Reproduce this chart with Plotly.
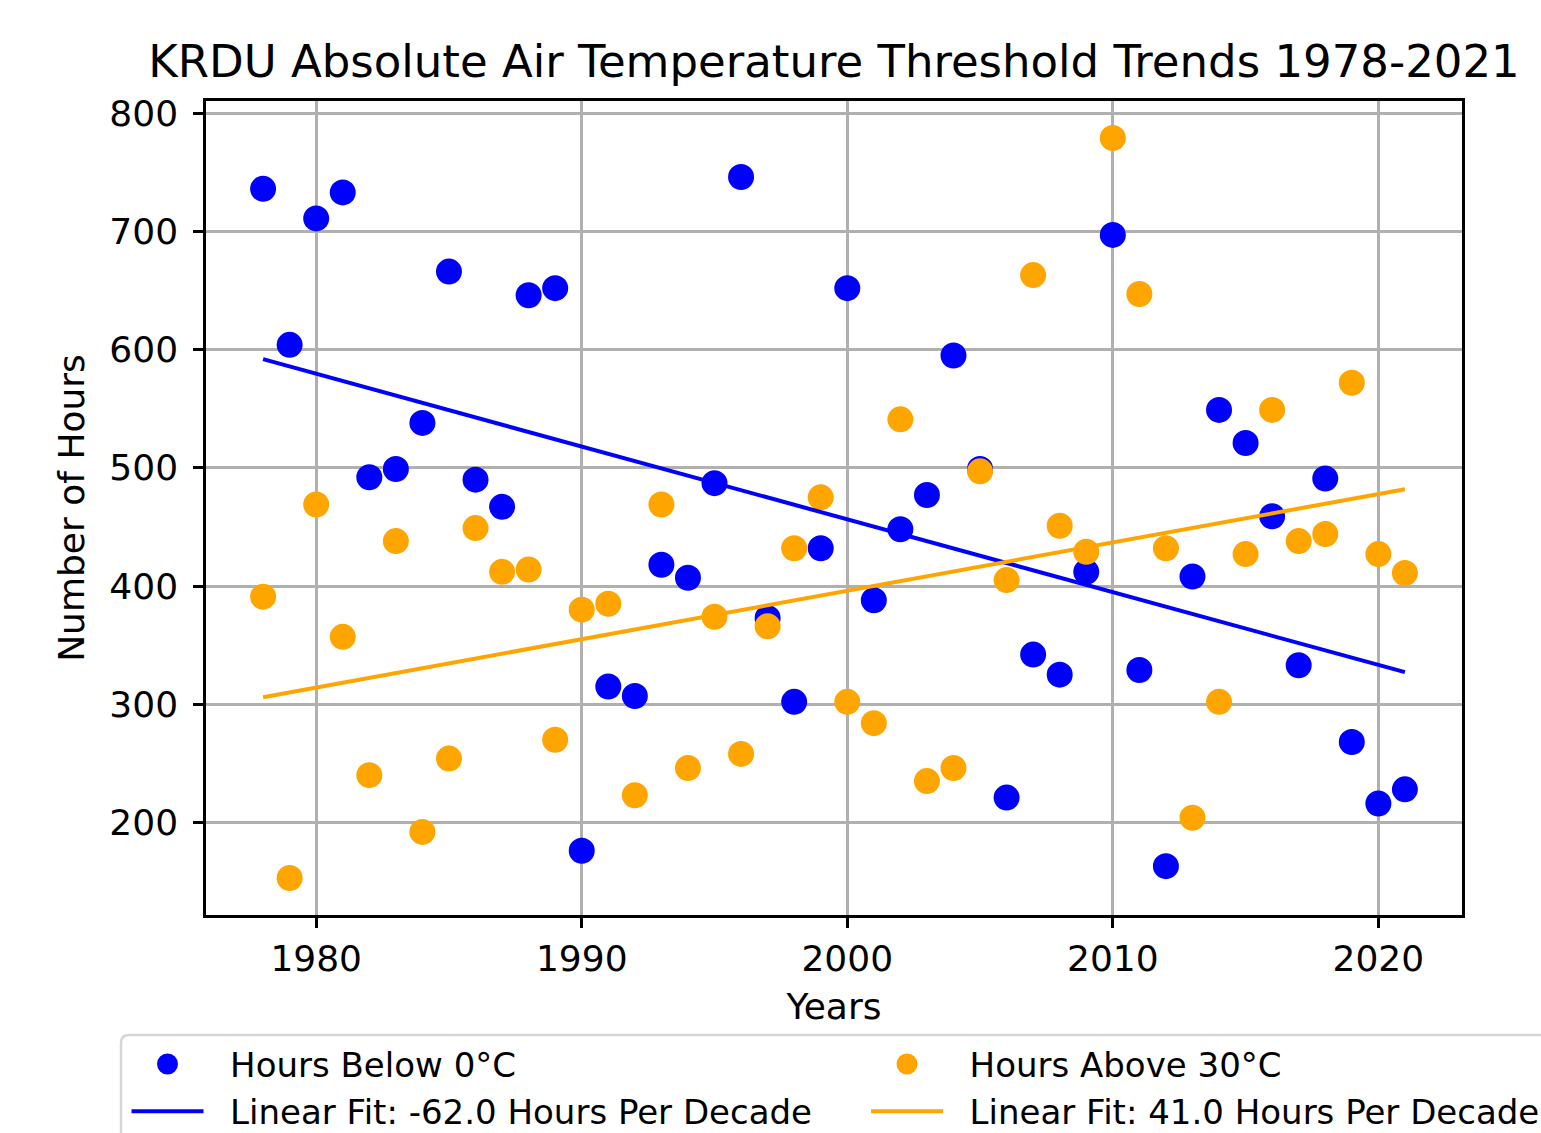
import numpy as np
import plotly.graph_objects as go

years = list(range(1978, 2022))
hours_below_0c = [736, 604, 711, 733, 492, 499, 538, 666, 490, 467,
                  646, 652, 176, 315, 307, 418, 407, 487, 746, 373,
                  302, 432, 652, 388, 448, 477, 595, 499, 221, 342,
                  325, 412, 697, 329, 163, 408, 549, 521, 459, 333,
                  491, 268, 216, 228]
hours_above_30c = [391, 153, 469, 357, 240, 438, 192, 254, 449, 412,
                   414, 270, 380, 385, 223, 469, 246, 374, 258, 366,
                   432, 475, 302, 284, 541, 235, 246, 497, 405, 663,
                   451, 429, 779, 647, 432, 204, 302, 427, 549, 438,
                   444, 572, 427, 411]

title_text = "KRDU Absolute Air Temperature Threshold Trends 1978-2021"
xlabel = "Years"
ylabel = "Number of Hours"
label_below = "Hours Below 0°C"
label_above = "Hours Above 30°C"
label_fit_below = "Linear Fit: -62.0 Hours Per Decade"
label_fit_above = "Linear Fit: 41.0 Hours Per Decade"

BLUE = "#0000ff"
ORANGE = "#ffa500"
FONT = "DejaVu Sans"

yrs = np.array(years, dtype=float)
fit_b = np.polyfit(yrs, hours_below_0c, 1)
fit_a = np.polyfit(yrs, hours_above_30c, 1)
fit_x = [years[0], years[-1]]

# axis ranges as matplotlib autoscale (5% margins)
xmin, xmax = min(years), max(years)
allv = hours_below_0c + hours_above_30c
ymin, ymax = min(allv), max(allv)
xr = [xmin - 0.05 * (xmax - xmin), xmax + 0.05 * (xmax - xmin)]
yr = [ymin - 0.05 * (ymax - ymin), ymax + 0.05 * (ymax - ymin)]

W, H = 1541, 1133
L, R, T, B = 206, 1462, 101, 915
pw, ph = R - L, B - T

def px_x(p):
    return (p - L) / pw

def px_y(p):
    return (B - p) / ph

NB = "\u00a0\u00a0"

fig = go.Figure()
fig.add_trace(go.Scatter(x=years, y=hours_below_0c, mode="markers",
                         marker=dict(color=BLUE, size=21, line=dict(width=5, color=BLUE)),
                         name=NB + label_below, legend="legend"))
fig.add_trace(go.Scatter(x=years, y=hours_above_30c, mode="markers",
                         marker=dict(color=ORANGE, size=21, line=dict(width=5, color=ORANGE)),
                         name=NB + label_above, legend="legend2"))
fig.add_trace(go.Scatter(x=fit_x, y=list(np.polyval(fit_b, fit_x)), mode="lines",
                         line=dict(color=BLUE, width=4),
                         name=NB + label_fit_below, legend="legend"))
fig.add_trace(go.Scatter(x=fit_x, y=list(np.polyval(fit_a, fit_x)), mode="lines",
                         line=dict(color=ORANGE, width=4),
                         name=NB + label_fit_above, legend="legend2"))

axis_common = dict(
    ticks="outside", ticklen=10, tickwidth=2.5, tickcolor="black",
    showline=True, linecolor="black", linewidth=2.5, mirror=True,
    showgrid=True, gridcolor="#b0b0b0", gridwidth=2.5, zeroline=False,
    tickfont=dict(family=FONT, size=36, color="black"),
)

legend_common = dict(
    orientation="v", xanchor="left", yanchor="top",
    font=dict(family=FONT, size=34, color="black"),
    bgcolor="rgba(0,0,0,0)", borderwidth=0, itemwidth=72,
    itemsizing="trace",
)

# legend frame (extends past right/bottom edges)
x0, x1 = px_x(121), px_x(1600)
y0, y1 = px_y(1035), px_y(1200)
rx, ry = 8 / pw, 8 / ph
frame_path = (f"M{x0},{y1} L{x0},{y0 - ry} Q{x0},{y0} {x0 + rx},{y0} "
              f"L{x1},{y0} L{x1},{y1} Z")

fig.update_layout(
    width=W, height=H,
    margin=dict(l=L, r=W - R, t=T, b=H - B, autoexpand=False),
    paper_bgcolor="white", plot_bgcolor="white",
    font=dict(family=FONT, color="black"),
    title=dict(text=title_text, x=0.5, xref="paper", xanchor="center",
               y=1 - 77 / H, yref="container", yanchor="bottom",
               font=dict(family=FONT, size=45, color="black")),
    xaxis=dict(range=xr, tick0=1980, dtick=10,
               title=dict(text=xlabel, font=dict(family=FONT, size=36, color="black"), standoff=16),
               **axis_common),
    yaxis=dict(range=yr, tick0=0, dtick=100, ticklabelstandoff=8,
               title=dict(text=ylabel, font=dict(family=FONT, size=36, color="black"), standoff=14),
               **axis_common),
    legend=dict(x=px_x(126.5), y=px_y(1035.4), **legend_common),
    legend2=dict(x=px_x(866), y=px_y(1035.4), **legend_common),
    shapes=[dict(type="path", xref="paper", yref="paper", path=frame_path,
                 line=dict(color="#d6d6d6", width=2.5), fillcolor="rgba(0,0,0,0)",
                 layer="below")],
    showlegend=True,
)

fig.write_html("out.html")
